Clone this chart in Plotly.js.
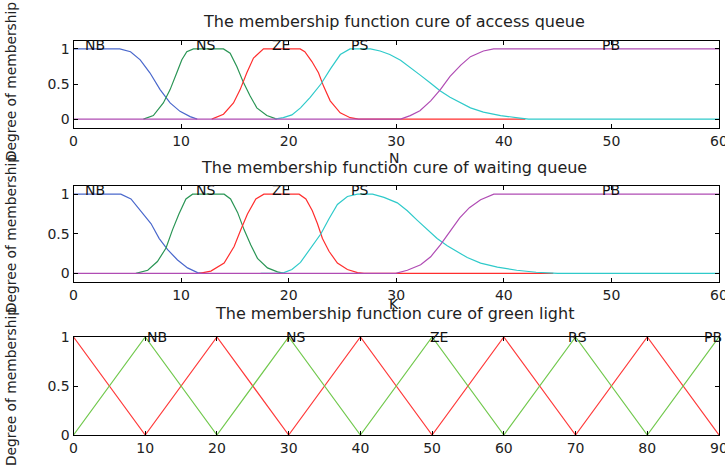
<!DOCTYPE html>
<html>
<head>
<meta charset="utf-8">
<script src="https://cdn.plot.ly/plotly-3.0.1.min.js"></script>
<style>html,body{margin:0;padding:0;background:#fff;}#chart{width:725px;height:466px;}</style>
</head>
<body>
<div id="chart"></div>
<script>
// ---- Access queue (N) ----
const accNBx = [0, 4.3, 5.3, 6.2, 7.1, 8.05, 8.98, 9.9, 10.84, 11.5];
const accNBy = [1, 1, 0.96, 0.845, 0.66, 0.42, 0.23, 0.11, 0.035, 0];
const accNSx = [6.5, 7.42, 8.35, 8.98, 9.6, 10.07, 10.53, 11.15, 13.94, 14.56, 15.18, 15.8, 16.42, 17.04, 17.97, 18.9];
const accNSy = [0, 0.05, 0.23, 0.42, 0.66, 0.845, 0.96, 1, 1, 0.94, 0.75, 0.52, 0.33, 0.16, 0.05, 0];
const accZEx = [12.85, 13.94, 14.87, 15.49, 16.11, 16.73, 17.66, 21.07, 21.5, 22.16, 22.77, 23.24, 23.86, 24.79, 25.72, 26.5, 42];
const accZEy = [0, 0.07, 0.23, 0.42, 0.66, 0.87, 1, 1, 0.96, 0.82, 0.66, 0.47, 0.26, 0.09, 0.02, 0, 0];
const accPSx = [18.7, 19.5, 20.3, 21.1, 22.0, 23.0, 23.9, 24.8, 25.7, 27.6, 28.5, 29.4, 30.4, 31.3, 32.2, 33.2, 34.1, 35.0, 36.0, 36.9, 38.1, 39.7, 41.5, 42.3, 60];
const accPSy = [0, 0.02, 0.06, 0.16, 0.31, 0.5, 0.72, 0.92, 1, 1, 0.97, 0.92, 0.84, 0.74, 0.63, 0.51, 0.40, 0.31, 0.23, 0.16, 0.10, 0.05, 0.015, 0, 0];
const accPBx = [0, 30.4, 31.3, 32.2, 33.2, 34.1, 35.0, 36.0, 36.9, 38.1, 39.05, 60];
const accPBy = [0, 0, 0.05, 0.12, 0.26, 0.42, 0.61, 0.77, 0.89, 0.97, 1, 1];

// ---- Waiting queue (K) ----
const waitNBx = [0, 4.4, 5.34, 6.27, 7.2, 7.97, 8.75, 9.67, 10.6, 11.53, 12];
const waitNBy = [1, 1, 0.94, 0.79, 0.63, 0.44, 0.30, 0.17, 0.07, 0.01, 0];
const waitNSx = [5.8, 6.9, 7.8, 8.6, 9.2, 9.8, 10.45, 11.07, 14.0, 14.6, 15.25, 15.86, 16.48, 17.1, 18.03, 18.96, 19.6];
const waitNSy = [0, 0.04, 0.15, 0.32, 0.55, 0.75, 0.94, 1, 1, 0.94, 0.77, 0.55, 0.36, 0.19, 0.07, 0.02, 0];
const waitZEx = [11.7, 12.77, 14.0, 14.93, 15.55, 16.17, 16.95, 17.7, 20.97, 21.6, 22.2, 22.67, 23.14, 23.75, 24.53, 25.46, 26.4, 27, 44.6];
const waitZEy = [0, 0.03, 0.13, 0.34, 0.55, 0.75, 0.94, 1, 1, 0.94, 0.79, 0.63, 0.44, 0.28, 0.13, 0.05, 0.01, 0, 0];
const waitPSx = [17.4, 19.0, 19.57, 20.3, 21.1, 22.05, 23.0, 23.75, 24.53, 25.46, 26.4, 27.8, 28.86, 30.1, 31.03, 31.96, 32.9, 33.8, 34.74, 35.67, 36.6, 37.84, 39.4, 41.2, 43, 45, 60];
const waitPSy = [0, 0, 0.01, 0.05, 0.14, 0.32, 0.50, 0.69, 0.87, 0.97, 1, 1, 0.96, 0.89, 0.79, 0.67, 0.55, 0.44, 0.35, 0.27, 0.20, 0.13, 0.08, 0.04, 0.015, 0, 0];
const waitPBx = [0, 29.95, 31.03, 32.27, 33.2, 34.1, 35.05, 35.9, 36.8, 37.84, 39.07, 60];
const waitPBy = [0, 0, 0.04, 0.11, 0.21, 0.36, 0.54, 0.70, 0.83, 0.93, 1, 1];

// ---- Green light ----
const greenX = [0, 10, 20, 30, 40, 50, 60, 70, 80, 90];
const greenRedY = [1, 0, 1, 0, 1, 0, 1, 0, 1, 0];
const greenGreenY = [0, 1, 0, 1, 0, 1, 0, 1, 0, 1];

// ---- Labels ----
const queueLabels = ['NB', 'NS', 'ZE', 'PS', 'PB'];
const queueLabelX = [2.0, 12.3, 19.3, 26.6, 50.0];
const greenLabels = ['NB', 'NS', 'ZE', 'RS', 'PB'];
const greenLabelX = [11.6, 31.0, 50.9, 70.3, 89.2];
const titles = ['The membership function cure of access queue',
                'The membership function cure of waiting queue',
                'The membership function cure of green light'];
const yTitle = 'Degree of membership';
const xTitles = ['N', 'K'];
const queueTicks = [0, 10, 20, 30, 40, 50, 60];
const greenTicks = [0, 10, 20, 30, 40, 50, 60, 70, 80, 90];
const yTicks = [0, 0.5, 1];
const yTickText = ['0', '0.5', '1'];

const C = {blue: '#4a68cc', green: '#2a9555', red: '#ff2e2e', cyan: '#2fcaca', mag: '#b04cb4',
           red3: '#ff3b3b', green3: '#72c94e'};
const FONT = 'DejaVu Sans, Arial, sans-serif';
const W = 725, H = 466;

function ln(x, y, color, xa, ya) {
  return {x: x, y: y, type: 'scatter', mode: 'lines', xaxis: xa, yaxis: ya,
          line: {color: color, width: 1.2},
          hoverinfo: 'skip', cliponaxis: false, showlegend: false};
}

const data = [
  ln(accNBx, accNBy, C.blue, 'x', 'y'),
  ln(accNSx, accNSy, C.green, 'x', 'y'),
  ln(accZEx, accZEy, C.red, 'x', 'y'),
  ln(accPSx, accPSy, C.cyan, 'x', 'y'),
  ln(accPBx, accPBy, C.mag, 'x', 'y'),
  ln(waitNBx, waitNBy, C.blue, 'x2', 'y2'),
  ln(waitNSx, waitNSy, C.green, 'x2', 'y2'),
  ln(waitZEx, waitZEy, C.red, 'x2', 'y2'),
  ln(waitPSx, waitPSy, C.cyan, 'x2', 'y2'),
  ln(waitPBx, waitPBy, C.mag, 'x2', 'y2'),
  ln(greenX, greenRedY, C.red3, 'x3', 'y3'),
  ln(greenX, greenGreenY, C.green3, 'x3', 'y3')
];

const xd = [73.5 / W, 719 / W];
function yd(top, bottom) { return [1 - bottom / H, 1 - top / H]; }

function xax(range, ticks, anchor) {
  return {domain: xd, range: range, anchor: anchor, tickvals: ticks, ticktext: ticks.map(String),
          ticks: 'inside', ticklen: 4, tickcolor: '#000', showline: true, mirror: 'ticks',
          linecolor: '#000', linewidth: 1, showgrid: false, zeroline: false, ticklabeloverflow: 'allow',
          tickfont: {family: FONT, size: 14, color: '#222'}, fixedrange: true};
}
function yax(range, dom, anchor) {
  return {domain: dom, range: range, anchor: anchor, tickvals: yTicks, ticktext: yTickText,
          ticks: 'inside', ticklen: 4, tickcolor: '#000', showline: true, mirror: 'ticks',
          linecolor: '#000', linewidth: 1, showgrid: false, zeroline: false,
          tickfont: {family: FONT, size: 14, color: '#222'}, fixedrange: true};
}

const annotations = [];
const titleY = [22, 168, 313];
titles.forEach((t, i) => annotations.push({text: t, xref: 'paper', yref: 'paper', x: 394 / W, y: 1 - titleY[i] / H,
  xanchor: 'center', yanchor: 'middle', showarrow: false, font: {family: FONT, size: 16, color: '#222'}}));
const yCenters = [82, 234, 387];
yCenters.forEach(c => annotations.push({text: yTitle, xref: 'paper', yref: 'paper', x: 11 / W, y: 1 - c / H,
  xanchor: 'center', yanchor: 'middle', textangle: -90, showarrow: false, font: {family: FONT, size: 13.8, color: '#222'}}));
const xTitleY = [158, 304];
xTitles.forEach((t, i) => annotations.push({text: t, xref: 'paper', yref: 'paper', x: 394 / W, y: 1 - xTitleY[i] / H,
  xanchor: 'center', yanchor: 'middle', showarrow: false, font: {family: FONT, size: 14, color: '#222'}}));
queueLabels.forEach((t, i) => {
  annotations.push({text: t, xref: 'x', yref: 'y', x: queueLabelX[i], y: 1.05, xanchor: 'center', yanchor: 'middle',
    showarrow: false, font: {family: FONT, size: 14, color: '#111'}});
  annotations.push({text: t, xref: 'x2', yref: 'y2', x: queueLabelX[i], y: 1.05, xanchor: 'center', yanchor: 'middle',
    showarrow: false, font: {family: FONT, size: 14, color: '#111'}});
});
greenLabels.forEach((t, i) => annotations.push({text: t, xref: 'x3', yref: 'y3', x: greenLabelX[i], y: 1.0,
  xanchor: 'center', yanchor: 'middle', showarrow: false, font: {family: FONT, size: 14, color: '#111'}}));

const layout = {
  width: W, height: H, margin: {l: 0, r: 0, t: 0, b: 0}, paper_bgcolor: '#fff', plot_bgcolor: '#fff',
  showlegend: false,
  xaxis: xax([0, 60], queueTicks, 'y'),
  yaxis: yax([-0.127, 1.113], yd(41, 128), 'x'),
  xaxis2: xax([0, 60], queueTicks, 'y2'),
  yaxis2: yax([-0.108, 1.103], yd(186, 282), 'x2'),
  xaxis3: xax([0, 90], greenTicks, 'y3'),
  yaxis3: yax([0, 1], yd(337, 435), 'x3'),
  annotations: annotations
};

Plotly.newPlot('chart', data, layout, {staticPlot: true, displayModeBar: false});
</script>
</body>
</html>
